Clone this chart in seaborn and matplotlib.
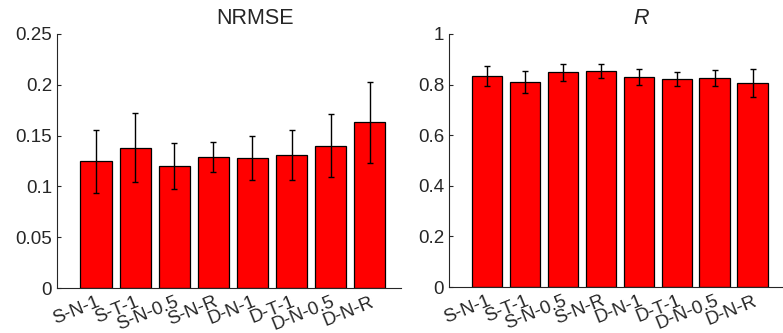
import matplotlib
matplotlib.use("Agg")
import matplotlib.pyplot as plt
import seaborn as sns
import pandas as pd

# methods on the x axis
methods = ["S-N-1", "S-T-1", "S-N-0.5", "S-N-R", "D-N-1", "D-T-1", "D-N-0.5", "D-N-R"]

# NRMSE mean and std
nrmse_mean = [0.125, 0.138, 0.120, 0.129, 0.128, 0.131, 0.140, 0.163]
nrmse_std = [0.031, 0.034, 0.0225, 0.0145, 0.022, 0.025, 0.031, 0.0395]

# correlation R mean and std
r_mean = [0.833, 0.811, 0.849, 0.855, 0.830, 0.822, 0.826, 0.806]
r_std = [0.039, 0.043, 0.034, 0.027, 0.031, 0.026, 0.032, 0.054]

sns.set_style("ticks")
plt.rcParams["font.family"] = ["Liberation Sans", "DejaVu Sans"]
plt.rcParams["xtick.direction"] = "in"
plt.rcParams["ytick.direction"] = "in"

fig = plt.figure(figsize=(7.83, 3.33), dpi=100)
ax1 = fig.add_axes([0.0728, 0.1351, 0.4393, 0.7628])
ax2 = fig.add_axes([0.5734, 0.1381, 0.4266, 0.7598])

def bar_panel(ax, means, stds, ylim, yticks, yticklabels, title, italic=False):
    df = pd.DataFrame({"method": methods, "value": means})
    sns.barplot(data=df, x="method", y="value", color="#ff0000", saturation=1,
                width=0.8, edgecolor="black", linewidth=0.9, errorbar=None, ax=ax)
    ax.errorbar(range(len(methods)), means, yerr=stds, fmt="none",
                ecolor="black", elinewidth=1, capsize=2.5, capthick=1)
    ax.set_xlim(-1, 7.8)
    ax.set_ylim(*ylim)
    ax.set_yticks(yticks)
    ax.set_yticklabels(yticklabels)
    ax.set_xlabel("")
    ax.set_ylabel("")
    ax.tick_params(axis="both", labelsize=13.5, colors="#262626", length=3)
    ax.tick_params(axis="x", length=0, pad=4)
    for lbl in ax.get_xticklabels():
        lbl.set_rotation(22)
        lbl.set_ha("right")
        lbl.set_rotation_mode("anchor")
    sns.despine(ax=ax)
    for s in ["left", "bottom"]:
        ax.spines[s].set_color("#262626")
        ax.spines[s].set_linewidth(0.8)
    ax.set_title(title, fontsize=15.5, x=0.575, pad=7,
                 style="italic" if italic else "normal")

bar_panel(ax1, nrmse_mean, nrmse_std, (0, 0.25),
          [0, 0.05, 0.1, 0.15, 0.2, 0.25],
          ["0", "0.05", "0.1", "0.15", "0.2", "0.25"], "NRMSE")
bar_panel(ax2, r_mean, r_std, (0, 1),
          [0, 0.2, 0.4, 0.6, 0.8, 1],
          ["0", "0.2", "0.4", "0.6", "0.8", "1"], "R", italic=True)

fig.savefig("out.png", dpi=100)
